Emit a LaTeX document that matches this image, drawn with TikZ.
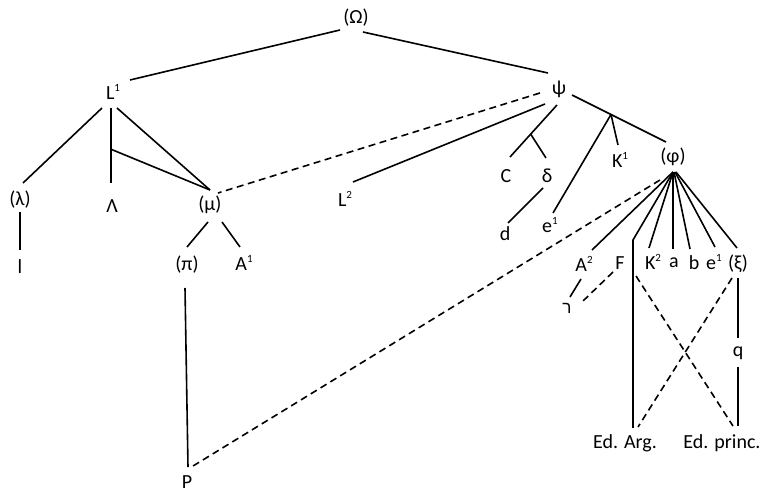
\documentclass[tikz,border=0pt]{standalone}
\usepackage{fontspec}
\setmainfont{Carlito}
\newfontfamily\hebfont[Script=Hebrew]{Liberation Sans}
\TeXXeTstate=1
\newcommand\supx[1]{\raisebox{0.9ex}{\fontsize{11}{11}\selectfont #1}}
\begin{document}
\begin{tikzpicture}[x=1pt,y=-1pt,
  lbl/.style={inner sep=0pt, font=\fontsize{20}{22}\selectfont},
  edge/.style={line width=1.6pt},
  dedge/.style={line width=1.6pt, dash pattern=on 7pt off 4.5pt}]
\useasboundingbox[fill=white] (0,0) rectangle (761,494);
% nodes
\node[lbl] (Om) at (356,18) {(Ω)};
\node[lbl] (L1) at (113,92) {L\supx{1}};
\node[lbl] (psi) at (559,89) {ψ};
\node[lbl] (lam) at (20,200) {(λ)};
\node[lbl] (Lam) at (112,206) {Λ};
\node[lbl] (mu) at (210,205) {(μ)};
\node[lbl] (L2) at (345,199) {L\supx{2}};
\node[lbl] (C) at (506,176) {C};
\node[lbl] (delta) at (547,176) {δ};
\node[lbl] (K1) at (620,160) {K\supx{1}};
\node[lbl] (phi) at (673,157) {(φ)};
\node[lbl] (d) at (505,234) {d};
\node[lbl] (e1) at (550,225) {e\supx{1}};
\node[lbl] (pi) at (187,265) {(π)};
\node[lbl] (A1) at (244,263) {A\supx{1}};
\node[lbl] (l) at (20,267) {l};
\node[lbl] (A2) at (584,264) {A\supx{2}};
\node[lbl] (F) at (620,263) {F};
\node[lbl] (K2) at (653,262) {K\supx{2}};
\node[lbl] (a) at (674,263) {a};
\node[lbl] (b) at (694,263) {b};
\node[lbl] (e1b) at (714,262) {e\supx{1}};
\node[lbl] (xi) at (738,264) {(ξ)};
\node[lbl, font=\fontsize{17}{19}\selectfont] (resh) at (567,308) {\hebfont\beginR ר\endR};
\node[lbl] (q) at (738,353) {q};
\node[lbl] (EdA) at (625,443) {Ed. Arg.};
\node[lbl] (EdP) at (722,443) {Ed. princ.};
\node[lbl] (P) at (187,482) {P};
% solid connectors
\draw[edge] ([shift={(-16,12)}]Om.center) -- ([shift={(17,-12)}]L1.center);
\draw[edge] ([shift={(7,14)}]Om.center) -- ([shift={(-11,-16)}]psi.center);
\draw[edge] ([shift={(-11,16)}]L1.center) -- ([shift={(3,-17)}]lam.center);
\draw[edge] ([shift={(-2,16)}]L1.center) -- coordinate[pos=0.55] (J1) ([shift={(-1,-23)}]Lam.center);
\draw[edge] (J1) -- ([shift={(0,-15)}]mu.center);
\draw[edge] ([shift={(4,16)}]L1.center) -- ([shift={(0,-15)}]mu.center);
\draw[edge] ([shift={(-14,15)}]psi.center) -- ([shift={(8,-17)}]L2.center);
\draw[edge] ([shift={(-2,16)}]psi.center) -- coordinate[pos=0.56] (J2) ([shift={(4,-19)}]C.center);
\draw[edge] (J2) -- ([shift={(-1,-18)}]delta.center);
\draw[edge] ([shift={(-4,12)}]delta.center) -- ([shift={(3,-11)}]d.center);
\draw[edge] ([shift={(13,6)}]psi.center) -- coordinate[pos=0.415] (J3) ([shift={(-7,-15)}]phi.center);
\draw[edge] (J3) -- ([shift={(-2,-15)}]K1.center);
\draw[edge] (J3) -- ([shift={(3,-12)}]e1.center);
\draw[edge] ([shift={(0,15)}]phi.center) -- ([shift={(8,-14)}]A2.center);
\draw[edge] ([shift={(0,15)}]phi.center) -- ([shift={(8,-203)}]EdA.center) coordinate (J4) -- ([shift={(8,-15)}]EdA.center);
\draw[edge] ([shift={(0,15)}]phi.center) -- ([shift={(-4,-14)}]K2.center);
\draw[edge] ([shift={(0,15)}]phi.center) -- ([shift={(-1,-14)}]a.center);
\draw[edge] ([shift={(1,15)}]phi.center) -- ([shift={(-4,-14)}]b.center);
\draw[edge] ([shift={(2,15)}]phi.center) -- ([shift={(1,-15)}]e1b.center);
\draw[edge] ([shift={(3,15)}]phi.center) -- ([shift={(-1,-16)}]xi.center);
\draw[edge] ([shift={(-3,15)}]A2.center) -- ([shift={(3,-11)}]resh.center);
\draw[edge] ([shift={(0,14)}]xi.center) -- ([shift={(0,-15)}]q.center);
\draw[edge] ([shift={(0,14)}]q.center) -- ([shift={(16,-17)}]EdP.center);
\draw[edge] ([shift={(-2,17)}]mu.center) -- ([shift={(0,-18)}]pi.center);
\draw[edge] ([shift={(12,17)}]mu.center) -- ([shift={(-4,-16)}]A1.center);
\draw[edge] ([shift={(-2,23)}]pi.center) -- ([shift={(1,-15)}]P.center);
\draw[edge] ([shift={(0,12)}]lam.center) -- ([shift={(0,-17)}]l.center);
% dashed connectors
\draw[dedge] ([shift={(-19,4)}]psi.center) -- ([shift={(8,-12)}]mu.center);
\draw[dedge] ([shift={(-13,23)}]phi.center) -- ([shift={(6,-16)}]P.center);
\draw[dedge] ([shift={(-7,9)}]F.center) -- ([shift={(15,-6)}]resh.center);
\draw[dedge] ([shift={(16,13)}]F.center) -- ([shift={(11,-17)}]EdP.center);
\draw[dedge] ([shift={(-6,14)}]xi.center) -- ([shift={(13,-16)}]EdA.center);
\end{tikzpicture}
\end{document}
